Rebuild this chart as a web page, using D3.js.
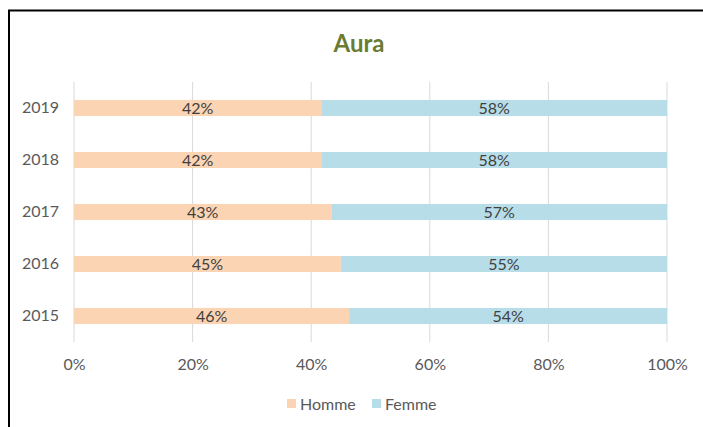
<!DOCTYPE html>
<html><head><meta charset="utf-8">
<script src="https://cdn.jsdelivr.net/npm/d3@7"></script>
<style>body{margin:0;background:#fff;}svg{display:block;font-family:Lato,"Open Sans",sans-serif;}</style>
</head><body>
<svg id="c" width="703" height="427"></svg>
<script>
const years = ["2019","2018","2017","2016","2015"];
const homme = [41.7, 41.7, 43.4, 45.0, 46.4];
const femme = [58.3, 58.3, 56.6, 55.0, 53.6];
const xTicks = [0, 20, 40, 60, 80, 100];
const seriesNames = ["Homme","Femme"];
const colors = ["#FBD4B4","#B7DDE8"];

const svg = d3.select("#c");
svg.append("rect").attr("width",703).attr("height",427).attr("fill","#fff");
svg.append("path").attr("d","M9,427 V10.5 H703").attr("fill","none").attr("stroke","#000").attr("stroke-width",2);

const x = d3.scaleLinear().domain([0,100]).range([74,667]);
const y = d3.scaleBand().domain(years).range([82,342]).paddingInner(0.69).paddingOuter(0.345);

svg.append("g").selectAll("line").data(xTicks).join("line")
  .attr("x1",d=>x(d)).attr("x2",d=>x(d)).attr("y1",82).attr("y2",342)
  .attr("stroke","#D9D9D9").attr("stroke-width",1);

const data = years.map((yr,i)=>({year:yr, Homme:homme[i], Femme:femme[i]}));
const stack = d3.stack().keys(seriesNames)(data);

const g = svg.append("g");
stack.forEach((s,si)=>{
  g.selectAll(null).data(s).join("rect")
    .attr("x",d=>x(d[0])).attr("width",d=>x(d[1])-x(d[0]))
    .attr("y",d=>y(d.data.year)).attr("height",y.bandwidth())
    .attr("fill",colors[si]);
  g.selectAll(null).data(s).join("text")
    .attr("x",d=>(x(d[0])+x(d[1]))/2).attr("y",d=>y(d.data.year)+y.bandwidth()/2)
    .attr("dy","0.36em").attr("text-anchor","middle")
    .attr("font-size",16).attr("fill","#404040")
    .text(d=>Math.round(d[1]-d[0])+"%");
});

const xAxis = d3.axisBottom(x).tickValues(xTicks).tickFormat(d=>d+"%").tickSize(0).tickPadding(0);
const xa = svg.append("g").attr("transform","translate(0,370)").call(xAxis);
xa.select(".domain").remove();
xa.selectAll("text").attr("font-size",16).attr("fill","#595959").attr("dy","0").attr("font-family","Lato,sans-serif");

const yAxis = d3.axisLeft(y).tickSize(0).tickPadding(0);
const ya = svg.append("g").attr("transform","translate(59,0)").call(yAxis);
ya.select(".domain").remove();
ya.selectAll("text").attr("font-size",16).attr("fill","#595959").attr("font-family","Lato,sans-serif");

svg.append("text").attr("x",359).attr("y",52).attr("text-anchor","middle")
  .attr("font-size",24).attr("font-weight","bold").attr("fill","#6A7B34").text("Aura");

const leg = svg.append("g");
const legX = [287, 372];
seriesNames.forEach((n,i)=>{
  leg.append("rect").attr("x",legX[i]).attr("y",399).attr("width",9).attr("height",9).attr("fill",colors[i]);
  leg.append("text").attr("x",legX[i]+13).attr("y",404).attr("dy","0.36em")
    .attr("font-size",16).attr("fill","#595959").text(n);
});
</script>
</body></html>
